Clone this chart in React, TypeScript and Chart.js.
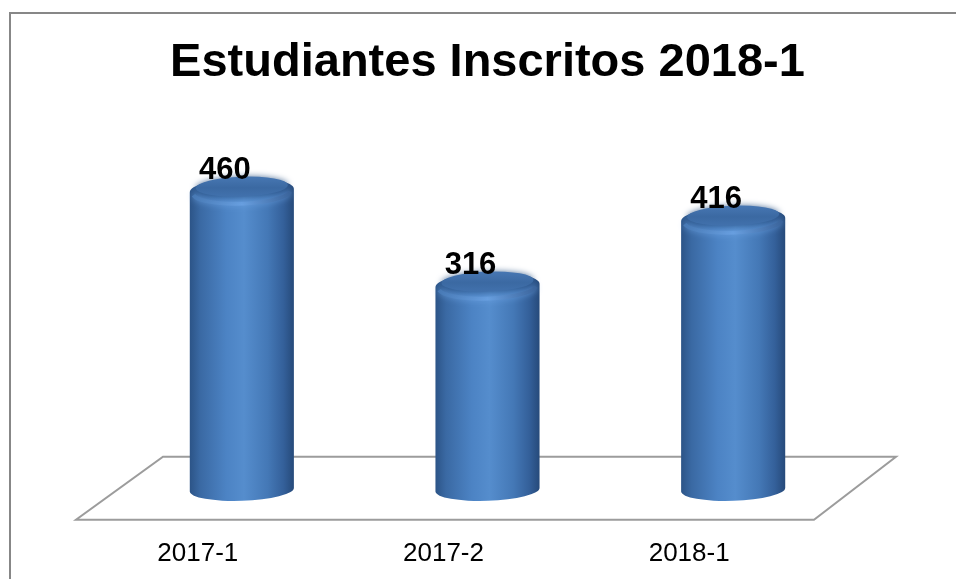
import React, { useEffect, useRef } from "react";
import { Chart, registerables } from "chart.js";

Chart.register(...registerables);

const TITLE = "Estudiantes Inscritos 2018-1";
const CATEGORIES = ["2017-1", "2017-2", "2018-1"];
const VALUES = [460, 316, 416];
const Y_MIN = 0;
const Y_MAX = 600;

const FONT = "'Liberation Sans', Arial, sans-serif";

const framePlugin = {
  id: "frame",
  beforeDraw(chart: any) {
    const ctx = chart.ctx;
    ctx.save();
    ctx.fillStyle = "#ffffff";
    ctx.fillRect(0, 0, chart.width, chart.height);
    ctx.strokeStyle = "#878787";
    ctx.lineWidth = 2;
    ctx.strokeRect(10, 13, chart.width + 20, chart.height + 20);
    ctx.restore();
  },
};

const floorPlugin = {
  id: "floor",
  beforeDatasetsDraw(chart: any) {
    const ctx = chart.ctx;
    const area = chart.chartArea;
    const base = chart.scales.y.getPixelForValue(0);
    const dx = 43;
    ctx.save();
    ctx.strokeStyle = "#9c9c9c";
    ctx.lineWidth = 2;
    ctx.beginPath();
    ctx.moveTo(area.left + dx + 1, base - 33);
    ctx.lineTo(area.right + dx - 3, base - 33);
    ctx.lineTo(area.right - dx + 1, base + 30);
    ctx.lineTo(area.left - dx, base + 30);
    ctx.closePath();
    ctx.stroke();
    ctx.restore();
  },
};

const cylinderPlugin = {
  id: "cylinders",
  afterDatasetsDraw(chart: any) {
    const ctx = chart.ctx;
    const meta = chart.getDatasetMeta(0);
    const rot = -0.035;
    meta.data.forEach((el: any, i: number) => {
      const x = el.x;
      const w = el.width;
      const top = el.y;
      const base = el.base;
      const rx = w / 2;
      const ry = 11;
      ctx.save();
      // body
      const g = ctx.createLinearGradient(x - rx, 0, x + rx, 0);
      g.addColorStop(0, "#2c5487");
      g.addColorStop(0.1, "#3a69a3");
      g.addColorStop(0.35, "#4c83c4");
      g.addColorStop(0.52, "#558dcd");
      g.addColorStop(0.75, "#4478b6");
      g.addColorStop(0.9, "#34609a");
      g.addColorStop(1, "#264a7a");
      ctx.beginPath();
      ctx.ellipse(x, base, rx, ry, rot, 0, Math.PI, false);
      ctx.ellipse(x, top + 4, rx, ry + 2, rot, Math.PI, Math.PI * 2, false);
      ctx.closePath();
      ctx.fillStyle = g;
      ctx.fill();
      // rounded shoulder (lighter band under the cap)
      const sg = ctx.createLinearGradient(x - rx, 0, x + rx, 0);
      sg.addColorStop(0, "rgba(70,120,180,0.9)");
      sg.addColorStop(0.5, "rgba(105,160,225,0.9)");
      sg.addColorStop(1, "rgba(55,95,150,0.9)");
      ctx.beginPath();
      ctx.ellipse(x, top + 5, rx - 3, ry + 1, rot, 0.05 * Math.PI, 0.95 * Math.PI);
      ctx.strokeStyle = sg;
      ctx.lineWidth = 4;
      ctx.shadowColor = "rgba(110,165,230,0.8)";
      ctx.shadowBlur = 6;
      ctx.stroke();
      ctx.shadowBlur = 0;
      // top cap
      const cg = ctx.createLinearGradient(0, top - ry, 0, top + ry);
      cg.addColorStop(0, "#4878b4");
      cg.addColorStop(0.55, "#3b69a2");
      cg.addColorStop(1, "#4272ae");
      ctx.beginPath();
      ctx.ellipse(x, top, rx - 6, ry - 1, rot, 0, Math.PI * 2);
      ctx.fillStyle = cg;
      ctx.shadowColor = "rgba(40,80,130,0.8)";
      ctx.shadowBlur = 6;
      ctx.fill();
      ctx.shadowBlur = 0;
      // value label
      ctx.fillStyle = "#000000";
      ctx.font = `bold 31px ${FONT}`;
      ctx.textAlign = "center";
      ctx.textBaseline = "alphabetic";
      ctx.fillText(String(VALUES[i]), x - 17, top - 8);
      ctx.restore();
    });
  },
};

export default function App() {
  const ref = useRef<HTMLCanvasElement | null>(null);
  useEffect(() => {
    if (!ref.current) return;
    const chart = new Chart(ref.current, {
      type: "bar",
      data: {
        labels: CATEGORIES,
        datasets: [
          {
            data: VALUES,
            backgroundColor: "rgba(0,0,0,0)",
            borderWidth: 0,
            categoryPercentage: 1,
            barPercentage: 0.424,
          },
        ],
      },
      options: {
        animation: false,
        responsive: false,
        devicePixelRatio: 1,
        layout: { padding: { left: 119, right: 100, top: 0, bottom: 3 } },
        plugins: {
          legend: { display: false },
          tooltip: { enabled: false },
          title: {
            display: true,
            text: TITLE,
            color: "#000000",
            font: { family: FONT, size: 47, weight: "bold" },
            padding: { top: 35, bottom: 3 },
          },
        },
        scales: {
          x: {
            grid: { display: false, drawTicks: false },
            border: { display: false },
            ticks: {
              color: "#000000",
              font: { family: FONT, size: 26 },
              padding: 48,
              labelOffset: -44,
              maxRotation: 0,
            },
          },
          y: {
            display: false,
            min: Y_MIN,
            max: Y_MAX,
          },
        },
      },
      plugins: [framePlugin, floorPlugin, cylinderPlugin],
    });
    return () => chart.destroy();
  }, []);
  return (
    <div style={{ position: "fixed", left: 0, top: 0, width: 956, height: 579, overflow: "hidden" }}>
      <canvas ref={ref} width={956} height={620} />
    </div>
  );
}
